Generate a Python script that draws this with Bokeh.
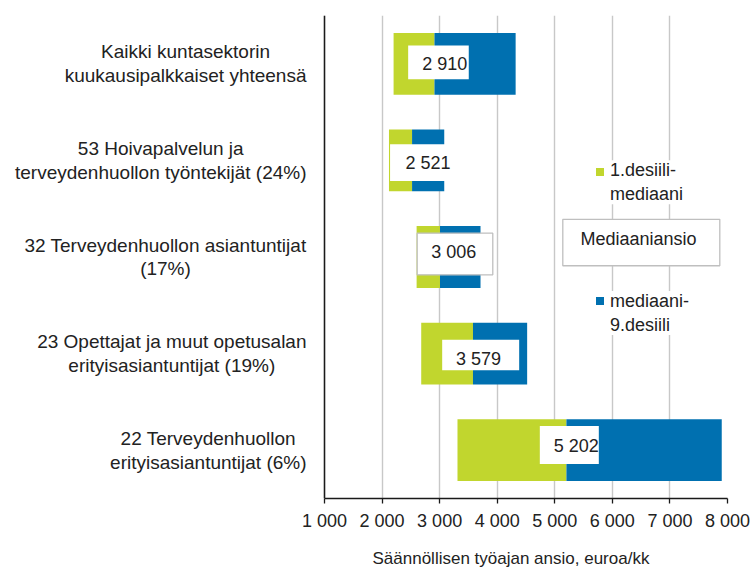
from bokeh.plotting import figure
from bokeh.models import ColumnDataSource, Range1d, FixedTicker, Span, Title
from bokeh.core.properties import value
from bokeh.embed import file_html
from bokeh.resources import INLINE

# ---------------- data ----------------
categories = [
    "Kaikki kuntasektorin\nkuukausipalkkaiset yhteensä",
    "53 Hoivapalvelun ja\nterveydenhuollon työntekijät (24%)",
    "32 Terveydenhuollon asiantuntijat\n(17%)",
    "23 Opettajat ja muut opetusalan\nerityisasiantuntijat (19%)",
    "22 Terveydenhuollon\nerityisasiantuntijat (6%)",
]
decile1 = [2200, 2120, 2600, 2680, 3310]
median = [2910, 2521, 3006, 3579, 5202]
decile9 = [4320, 3080, 3710, 4520, 7900]
x_ticks = [1000, 2000, 3000, 4000, 5000, 6000, 7000, 8000]
x_tick_labels = ["1 000", "2 000", "3 000", "4 000", "5 000", "6 000", "7 000", "8 000"]
series_names = ["1.desiili-\nmediaani", "Mediaaniansio", "mediaani-\n9.desiili"]
axis_title = "Säännöllisen työajan ansio, euroa/kk"

# ---------------- styles / layout ----------------
GREEN = "#c1d62e"
BLUE = "#0070b0"
GRID = "#c8c8c8"
AXIS = "#1a1a1a"
TEXT = "#222222"
FONT = "Liberation Sans"

W, H = 750, 580
TOP = 15
FRAME_BOTTOM = 499
BOTTOM = H - FRAME_BOTTOM
FRAME_RIGHT = 727
RIGHT = W - FRAME_RIGHT
AXIS_PX = 324                 # screen x of the value axis (1000)
SCALE = (FRAME_RIGHT - AXIS_PX) / (x_ticks[-1] - x_ticks[0])   # px per euro
X_MIN = x_ticks[0] - AXIS_PX / SCALE
X_MAX = x_ticks[-1]
N = len(categories)
ROW_PX = (FRAME_BOTTOM - TOP) / N
BAR_H = 0.64

def px_x(sx):
    return X_MIN + sx / SCALE

def px_y(sy):
    return -0.5 + (sy - TOP) / ROW_PX

# label-box styling per row (screen px)
box_dx = [4, 16, 15, 7.7, 2.9]
box_dy = [-1.5, 2.3, -3, 1.4, -5.3]
box_w = [60.6, 76, 75.6, 77, 59]
box_h = [33.7, 36.7, 41.7, 30.4, 38]
box_line_alpha = [0, 0, 1, 0, 0]
txt_dx = [6.3, 0, -1.2, -2.2, 7]
txt_dy = [0, 2.7, -5.5, 5.6, -4]

idx = list(range(N))

p = figure(width=W, height=H, x_range=Range1d(X_MIN, X_MAX), y_range=Range1d(N - 0.5, -0.5),
           y_axis_location=None, toolbar_location=None, output_backend="svg",
           min_border_left=0, min_border_right=RIGHT,
           min_border_top=TOP, min_border_bottom=BOTTOM, outline_line_color=None)
p.ygrid.visible = False
p.xgrid.ticker = FixedTicker(ticks=x_ticks)
p.xgrid.grid_line_color = GRID
p.xgrid.grid_line_width = 1.4

src = ColumnDataSource(dict(
    y=idx, d1=decile1, med=median, d9=decile9,
    bx=[m + dx / SCALE for m, dx in zip(median, box_dx)],
    by=[i + dy / ROW_PX for i, dy in zip(idx, box_dy)],
    bw=box_w, bh=box_h, bla=box_line_alpha,
    tdx=txt_dx,
    ty=[i + dy / ROW_PX for i, dy in zip(idx, txt_dy)],
    lab=[f"{m:,}".replace(",", " ") for m in median],
))

# category labels
p.text(x=[px_x(306)] * N, y=idx, text=categories, text_align="center",
       anchor=value("center_right"), text_font=value(FONT), text_font_size="19px",
       text_color=TEXT, text_line_height=1.14)

p.hbar(y="y", left="d1", right="med", height=BAR_H, fill_color=GREEN, line_color=None, source=src)
p.hbar(y="y", left="med", right="d9", height=BAR_H, fill_color=BLUE, line_color=None, source=src)
p.rect(x="bx", y="by", width="bw", height="bh", width_units="screen", height_units="screen",
       fill_color="white", line_color="#bfbfbf", line_alpha="bla", line_width=1.3, source=src)
p.text(x="bx", y="ty", x_offset="tdx", text="lab", text_align="center", text_baseline="middle",
       text_font=value(FONT), text_font_size="18px", text_color=TEXT, source=src)

p.add_layout(Span(location=x_ticks[0], dimension="height", line_color=AXIS, line_width=1.5))

# legend (manual)
p.rect(x=[px_x(599.5)], y=[px_y(171.7)], width=8, height=8, width_units="screen",
       height_units="screen", fill_color=GREEN, line_color=None)
p.text(x=[px_x(609.5)], y=[px_y(182)], text=[series_names[0]], anchor=value("center_left"),
       text_align="left", text_font=value(FONT), text_font_size="18px", text_color=TEXT,
       text_line_height=1.2, background_fill_color="white")
p.rect(x=[px_x(640.8)], y=[px_y(242.5)], width=157, height=46.4, width_units="screen",
       height_units="screen", fill_color="white", line_color="#bfbfbf", line_width=1.3)
p.text(x=[px_x(638)], y=[px_y(238.5)], text=[series_names[1]], text_align="center",
       text_baseline="middle", text_font=value(FONT), text_font_size="18px", text_color=TEXT)
p.rect(x=[px_x(599.5)], y=[px_y(301)], width=8, height=8, width_units="screen",
       height_units="screen", fill_color=BLUE, line_color=None)
p.text(x=[px_x(609.5)], y=[px_y(313)], text=[series_names[2]], anchor=value("center_left"),
       text_align="left", text_font=value(FONT), text_font_size="18px", text_color=TEXT,
       text_line_height=1.2, background_fill_color="white")

ax = p.xaxis[0]
ax.ticker = FixedTicker(ticks=x_ticks)
ax.major_label_overrides = dict(zip(x_ticks, x_tick_labels))
ax.bounds = (x_ticks[0], x_ticks[-1])
ax.axis_line_color = AXIS
ax.axis_line_width = 1.5
ax.major_tick_line_color = AXIS
ax.major_tick_line_width = 1.3
ax.major_tick_out = 5
ax.major_tick_in = 0
ax.minor_tick_out = 0
ax.minor_tick_in = 0
ax.major_label_standoff = 7
ax.major_label_text_font = FONT
ax.major_label_text_font_size = "18px"
ax.major_label_text_color = TEXT

p.add_layout(Title(text=axis_title, align="left", offset=372, text_font=FONT,
                   text_font_size="17px", text_font_style="normal", text_color=TEXT,
                   standoff=26), "below")

open("out.html", "w").write(file_html(p, INLINE))
